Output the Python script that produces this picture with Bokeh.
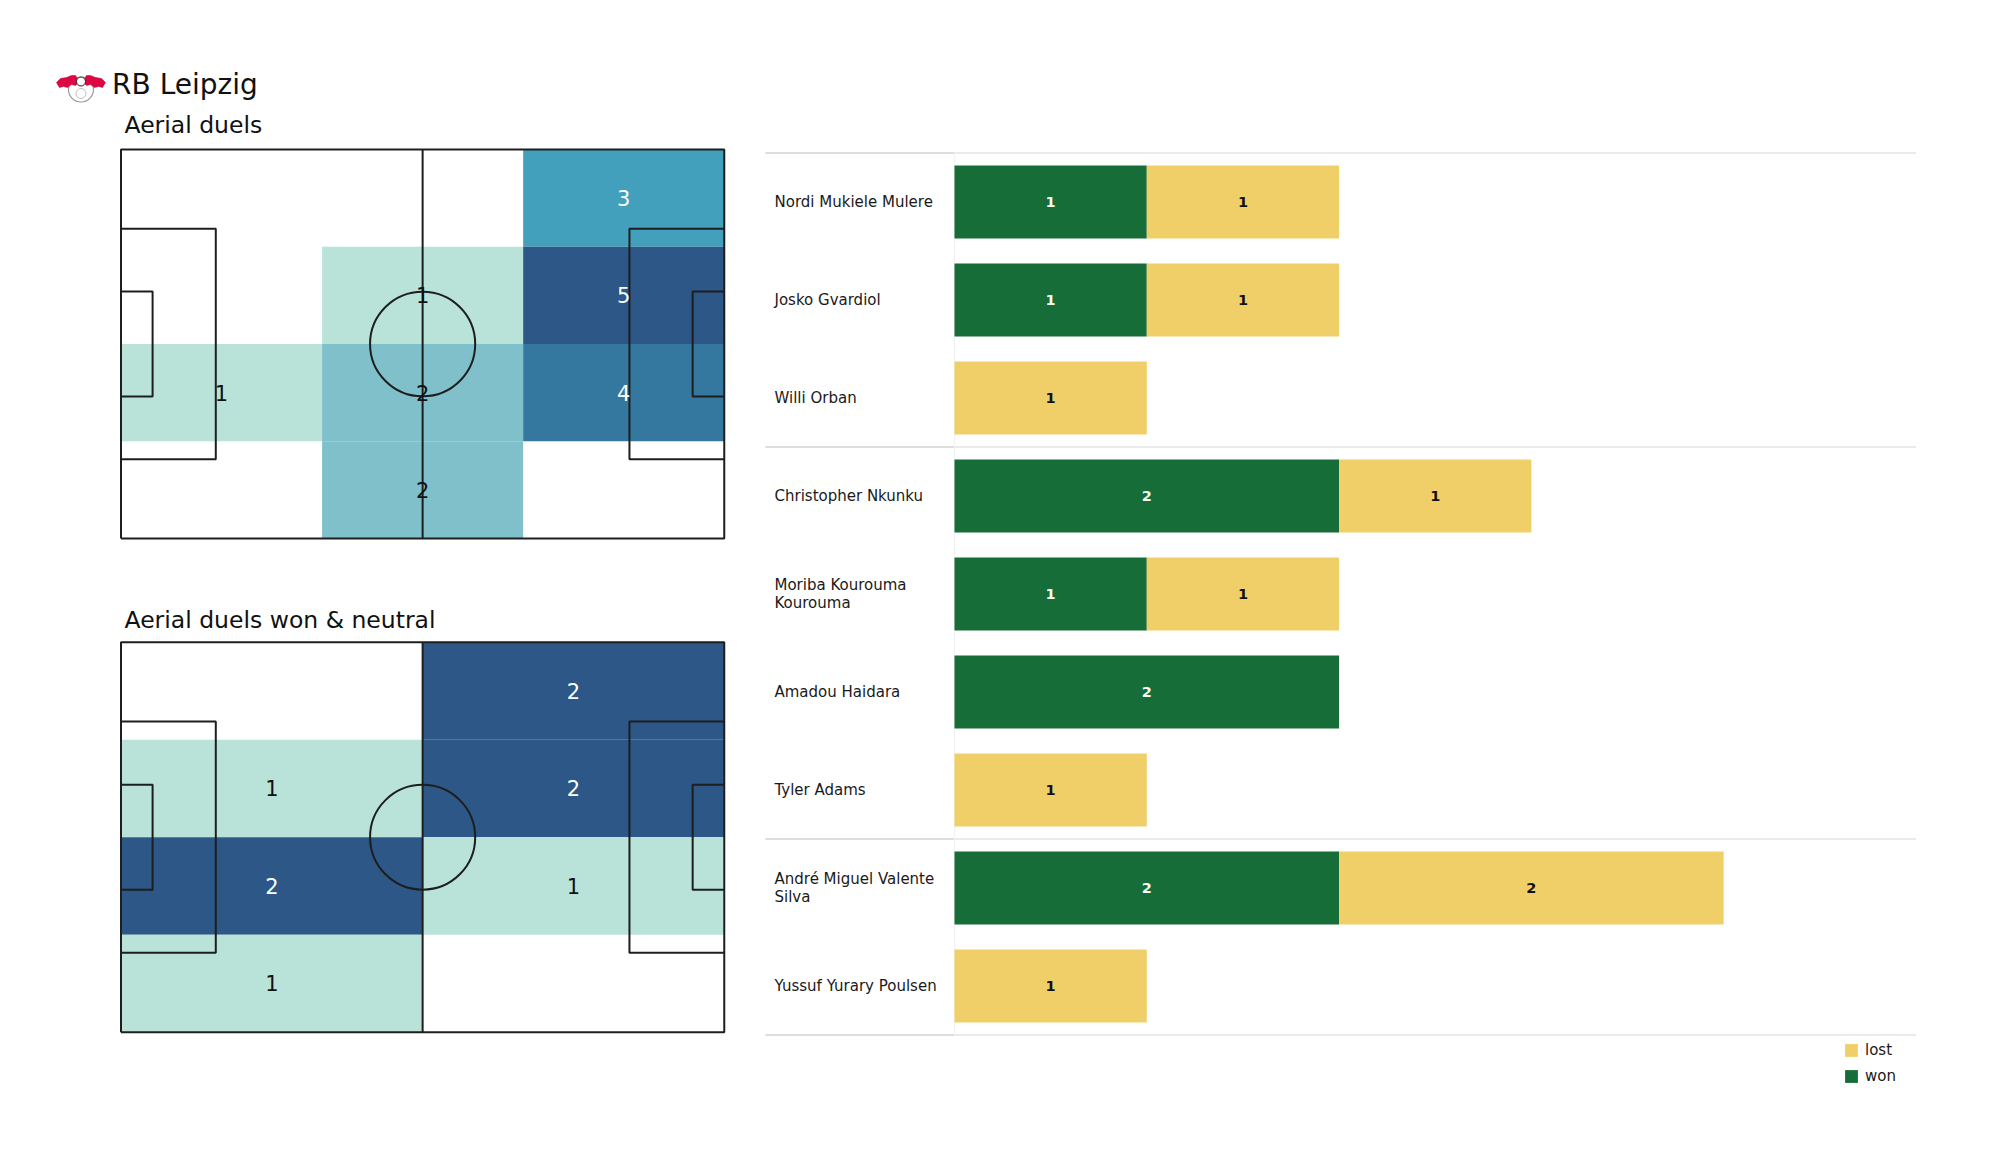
from bokeh.plotting import figure
from bokeh.models import Range1d, ColumnDataSource, Legend, LegendItem, Spacer
from bokeh.layouts import row, column
from bokeh.embed import file_html
from bokeh.resources import INLINE
from bokeh.core.properties import value

# ---------------- data ----------------
team = "RB Leipzig"
pitch_titles = ["Aerial duels", "Aerial duels won & neutral"]
# zone counts, rows listed top -> bottom, columns left -> right
aerial_grid = [[0, 0, 3],
               [0, 1, 5],
               [1, 2, 4],
               [0, 2, 0]]
won_neutral_grid = [[0, 2],
                    [1, 2],
                    [2, 1],
                    [1, 0]]

players = ["Nordi Mukiele Mulere", "Josko Gvardiol", "Willi Orban",
           "Christopher Nkunku", "Moriba Kourouma\nKourouma", "Amadou Haidara",
           "Tyler Adams", "André Miguel Valente\nSilva", "Yussuf Yurary Poulsen"]
positions = ["DF", "DF", "DF", "MF", "MF", "MF", "MF", "FW", "FW"]
won = [1, 1, 0, 2, 1, 2, 0, 2, 0]
lost = [1, 1, 1, 1, 1, 0, 1, 2, 1]
legend_labels = ["lost", "won"]

# ---------------- style ----------------
heat_palette = ["#b9e3d9", "#7fc0ca", "#42a0bd", "#34779f", "#2c5786"]
WON_C = "#166d37"
LOST_C = "#f1cf68"
FONT = "DejaVu Sans"
FONT_V = value(FONT)
LINE_C = "#1e1e1e"
PITCH_L, PITCH_W = 105.0, 68.0

X_RANGE = (-19.58, 109.22)
SX = 5.745  # px per metre
TXT_SHIFT = 9  # baseline correction (px)


def style_blank(p):
    p.axis.visible = False
    p.grid.visible = False
    p.outline_line_color = None
    p.min_border = 0
    p.background_fill_color = "white"
    p.border_fill_color = "white"


def draw_pitch(p, grid):
    nrows, ncols = len(grid), len(grid[0])
    cw, ch = PITCH_L / ncols, PITCH_W / nrows
    vals = [v for r in grid for v in r if v > 0]
    vmin, vmax = min(vals), max(vals)
    q = dict(left=[], right=[], top=[], bottom=[], color=[])
    t = dict(x=[], y=[], text=[], color=[])
    for i, r in enumerate(grid):
        for j, v in enumerate(r):
            if v <= 0:
                continue
            f = (v - vmin) / (vmax - vmin) if vmax > vmin else 1.0
            k = int(round(f * (len(heat_palette) - 1)))
            top = PITCH_W - i * ch
            q["left"].append(j * cw)
            q["right"].append((j + 1) * cw)
            q["top"].append(top)
            q["bottom"].append(top - ch)
            q["color"].append(heat_palette[k])
            t["x"].append((j + 0.5) * cw)
            t["y"].append(top - ch / 2)
            t["text"].append(str(v))
            t["color"].append("white" if f >= 0.5 else "#111111")
    p.quad(left="left", right="right", top="top", bottom="bottom",
           fill_color="color", line_color=None, source=ColumnDataSource(q))

    # pitch markings
    L, W = PITCH_L, PITCH_W
    pb_d, pb_w = 16.5, 40.32
    sb_d, sb_w = 5.5, 18.32
    xs = [[0, L, L, 0, 0], [L / 2, L / 2],
          [0, pb_d, pb_d, 0], [L, L - pb_d, L - pb_d, L],
          [0, sb_d, sb_d, 0], [L, L - sb_d, L - sb_d, L]]
    ys = [[0, 0, W, W, 0], [0, W],
          [(W - pb_w) / 2, (W - pb_w) / 2, (W + pb_w) / 2, (W + pb_w) / 2],
          [(W - pb_w) / 2, (W - pb_w) / 2, (W + pb_w) / 2, (W + pb_w) / 2],
          [(W - sb_w) / 2, (W - sb_w) / 2, (W + sb_w) / 2, (W + sb_w) / 2],
          [(W - sb_w) / 2, (W - sb_w) / 2, (W + sb_w) / 2, (W + sb_w) / 2]]
    p.multi_line(xs=xs, ys=ys, line_color=LINE_C, line_width=2)
    p.ellipse(x=[L / 2], y=[W / 2], width=18.3, height=18.3,
              fill_color=None, line_color=LINE_C, line_width=2)

    p.text(x="x", y="y", text="text", text_color="color", source=ColumnDataSource(t),
           text_align="center", text_baseline="middle",
           text_font=FONT_V, text_font_size="21px")


# ---------- pitch 1 (with team header) ----------
H1 = 567
Y1_TOP, Y1_BOT = 92.648, -6.468
p1 = figure(width=740, height=H1, x_range=Range1d(*X_RANGE), y_range=Range1d(Y1_BOT, Y1_TOP),
            output_backend="svg", toolbar_location=None)
style_blank(p1)
draw_pitch(p1, aerial_grid)
sy1 = H1 / (Y1_TOP - Y1_BOT)


def page_to_p1(px, py):
    return ((px - 8 - 112.5) / SX, Y1_TOP - (py - 8) / sy1)


# logo (decorative)
left_bull = [(56, 82), (60, 78), (66, 77), (71, 75), (75, 75), (77, 78), (78, 82),
             (75, 85), (71, 84), (67, 87), (63, 86), (59, 87)]
right_bull = [(161 - x, y) for x, y in left_bull]
bxs, bys = [], []
for poly in (left_bull, right_bull):
    pts = [page_to_p1(x, y) for x, y in poly]
    bxs.append([a for a, b in pts])
    bys.append([b for a, b in pts])
bx, by = page_to_p1(80.5, 89)
p1.scatter([bx], [by], size=25, marker="circle", fill_color="white",
           line_color="#9a9a9a", line_width=1.2)
p1.patches(xs=bxs, ys=bys, fill_color="#dd0741", line_color="#b0002e", line_width=0.5)
bx2, by2 = page_to_p1(80.5, 81)
p1.scatter([bx2], [by2], size=9, marker="circle", fill_color="white",
           line_color="#222222", line_width=1)
bx3, by3 = page_to_p1(80.5, 93)
p1.scatter([bx3], [by3], size=10, marker="circle", fill_color=None,
           line_color="#c0c0c0", line_width=1)

tx, ty = page_to_p1(111.6, 93 - TXT_SHIFT)
p1.text(x=[tx], y=[ty], text=[team], text_font=FONT_V, text_font_size="28px",
        text_color="#111111", text_baseline="alphabetic")
sx_, sy_ = page_to_p1(124, 133 - TXT_SHIFT)
p1.text(x=[sx_], y=[sy_], text=[pitch_titles[0]], text_font=FONT_V, text_font_size="23.5px",
        text_color="#111111", text_baseline="alphabetic")

# ---------- pitch 2 ----------
H2 = 592
Y2_TOP, Y2_BOT = 79.63, -23.59
p2 = figure(width=740, height=H2, x_range=Range1d(*X_RANGE), y_range=Range1d(Y2_BOT, Y2_TOP),
            output_backend="svg", toolbar_location=None)
style_blank(p2)
draw_pitch(p2, won_neutral_grid)
sy2 = H2 / (Y2_TOP - Y2_BOT)
p2.text(x=[(124 - 8 - 112.5) / SX], y=[Y2_TOP - (628.3 - TXT_SHIFT - 575) / sy2],
        text=[pitch_titles[1]], text_font=FONT_V, text_font_size="23.5px",
        text_color="#111111", text_baseline="alphabetic")

# ---------- bar chart ----------
WB, HB = 1244, 1159
p3 = figure(width=WB, height=HB, x_range=Range1d(-1.0712, 5.398),
            y_range=Range1d(9.852, -1.974), output_backend="svg", toolbar_location=None)
style_blank(p3)

n = len(players)
ys_idx = list(range(n))
total = [w + l for w, l in zip(won, lost)]
src = ColumnDataSource(dict(y=ys_idx, won=won, lost=lost, total=total))

# group separators
bounds = [-0.5] + [i - 0.5 for i in range(1, n) if positions[i] != positions[i - 1]] + [n - 0.5]
p3.segment(x0=[-0.983] * len(bounds), x1=[0] * len(bounds), y0=bounds, y1=bounds,
           line_color="#d2d2d2", line_width=1.5)
p3.segment(x0=[0] * len(bounds), x1=[5.0] * len(bounds), y0=bounds, y1=bounds,
           line_color="#e4e4e4", line_width=1.5)
p3.segment(x0=[0], x1=[0], y0=[bounds[0]], y1=[bounds[-1]], line_color="#f1f1f1", line_width=1)

r_won = p3.hbar(y="y", left=0, right="won", height=0.745, fill_color=WON_C,
                line_color=None, source=src)
r_lost = p3.hbar(y="y", left="won", right="total", height=0.745, fill_color=LOST_C,
                 line_color=None, source=src)

# names
p3.text(x=[-0.936] * n, y=ys_idx, text=players, text_font=FONT_V, text_font_size="15px",
        text_color="#1a1a1a", text_align="left", text_baseline="middle",
        text_line_height=1.05)

# bar value labels
lab = dict(x=[], y=[], text=[], color=[])
for i in range(n):
    if won[i] > 0:
        lab["x"].append(won[i] / 2)
        lab["y"].append(i)
        lab["text"].append(str(won[i]))
        lab["color"].append("#f2fbf4")
    if lost[i] > 0:
        lab["x"].append(won[i] + lost[i] / 2)
        lab["y"].append(i)
        lab["text"].append(str(lost[i]))
        lab["color"].append("#111111")
p3.text(x="x", y="y", text="text", text_color="color", source=ColumnDataSource(lab),
        text_align="center", text_baseline="middle", text_font=FONT_V,
        text_font_size="14.5px", text_font_style="bold")

legend = Legend(items=[LegendItem(label=legend_labels[0], renderers=[r_lost]),
                       LegendItem(label=legend_labels[1], renderers=[r_won])],
                location=(1095, 82))
legend.background_fill_alpha = 0
legend.border_line_color = None
legend.padding = 0
legend.margin = 0
legend.glyph_width = 16
legend.glyph_height = 16
legend.label_height = 16
legend.spacing = 8
legend.label_standoff = 6
legend.label_text_font = FONT
legend.label_text_font_size = "15px"
legend.label_text_color = "#1a1a1a"
p3.add_layout(legend)

layout = column(Spacer(width=1992, height=8),
                row(Spacer(width=8, height=1159), column(p1, p2), p3))
open("out.html", "w").write(file_html(layout, INLINE))
